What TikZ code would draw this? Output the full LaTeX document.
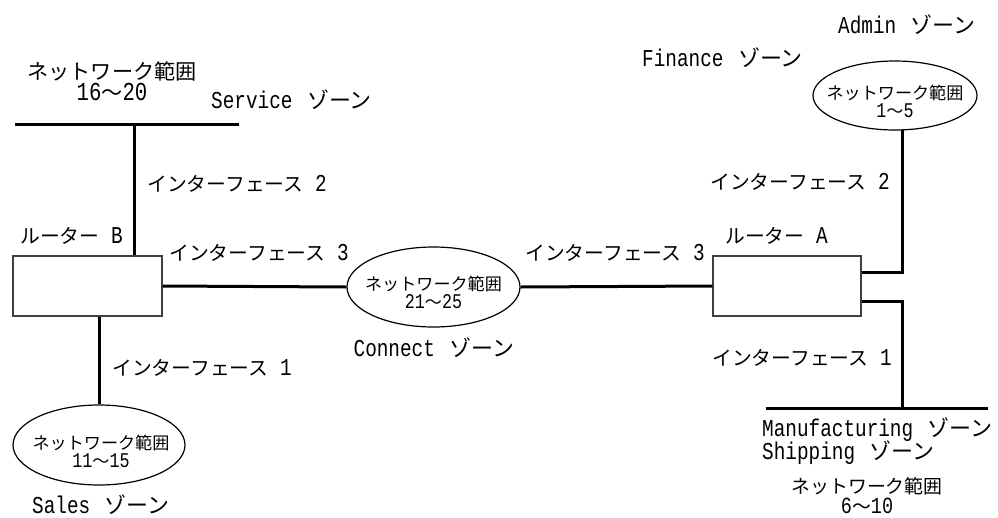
\documentclass[tikz,border=0pt]{standalone}
\usepackage{fontspec}
\setmainfont{Liberation Mono}[FakeStretch=0.8, Scale=1.1]
\newfontfamily\jpfont{Noto Sans CJK JP}[Scale=0.9]
\newcommand\J[1]{{\jpfont #1}}
\newcommand\Zn{\hspace{3pt}{\jpfont\fontsize{24.4}{24}\selectfont ゾーン}}
\usetikzlibrary{shapes.geometric,calc}
\tikzset{
  lbl/.style={inner sep=0pt, font=\fontsize{22}{24}\selectfont, anchor=west},
  wire/.style={line width=3pt},
  router/.style={draw=black!75, line width=1.3pt, minimum width=149pt, minimum height=60pt, inner sep=0pt},
  zone/.style={ellipse, draw, line width=1.2pt, inner sep=0pt},
  zonetext/.style={inner sep=0pt, align=center, font=\fontsize{19}{18}\selectfont},
}
\begin{document}
\begin{tikzpicture}[x=1pt,y=-1pt]
\useasboundingbox (0,0) rectangle (998,517);

% routers
\node[router] (rB) at (87.5,286) {};
\node[router, minimum width=148pt] (rA) at (787,286) {};

% zone ellipses
\node[zone, minimum width=173pt, minimum height=80pt] (eC) at (433.5,287) {};
\node[zonetext] (tC) at (433.5,292) {\J{ネットワーク範囲}\\21\J{〜}25};
\node[zone, minimum width=164pt, minimum height=69pt] (eA) at (895,95.5) {};
\node[zonetext] (tA) at (895,101) {\J{ネットワーク範囲}\\1\J{〜}5};
\node[zone, minimum width=172pt, minimum height=80pt] (eS) at (99,445) {};
\node[zonetext] (tS) at (101,451) {\J{ネットワーク範囲}\\11\J{〜}15};

% bus lines
\coordinate (svL) at (15,124);
\coordinate (svR) at (239,124);
\coordinate (svT) at (134,124);
\coordinate (mfL) at (766,408);
\coordinate (mfR) at (988,408);
\coordinate (mfT) at (902,408);

\draw[wire] (svL) -- (svR);
\draw[wire] (svT) -- (svT |- rB.north);
\draw[wire] (rB.east) -- (eC.west);
\draw[wire] (eC.east) -- (rA.west);
\draw[wire] ($(rA.east)+(0,-14)$) -| (eA.-78);
\draw[wire] ($(rA.east)+(0,15)$) -| (mfT);
\draw[wire] (mfL) -- (mfR);
\draw[wire] (eS.north |- rB.south) -- (eS.north);

% labels
\node[lbl, anchor=center, align=center, font=\fontsize{23.5}{21}\selectfont] (nSv) at (112,81) {\J{ネットワーク範囲}\\16\J{〜}20};
\node[lbl] (lSv) at (211,100) {Service \Zn};
\node[lbl] (if2L) at (147,184) {\J{インターフェース} 2};
\node[lbl] (rBl) at (20,236) {\J{ルーター} B};
\node[lbl] (if3L) at (169,253) {\J{インターフェース} 3};
\node[lbl] (if1L) at (112,368) {\J{インターフェース} 1};
\node[lbl] (lSa) at (32,505) {Sales \Zn};
\node[lbl, anchor=center] (lCo) at (434,348) {Connect \Zn};
\node[lbl] (if3R) at (525,253) {\J{インターフェース} 3};
\node[lbl] (rAl) at (725,236) {\J{ルーター} A};
\node[lbl] (if2R) at (710,182) {\J{インターフェース} 2};
\node[lbl] (lFi) at (642,58) {Finance \Zn};
\node[lbl] (lAd) at (838,25) {Admin \Zn};
\node[lbl] (if1R) at (712,358) {\J{インターフェース} 1};
\node[lbl] (lMf) at (762,430) {Manufacturing \Zn};
\node[lbl] (lSh) at (762,453) {Shipping \Zn};
\node[lbl, anchor=center, align=center, font=\fontsize{21}{20}\selectfont] (nMf) at (867,496) {\J{ネットワーク範囲}\\6\J{〜}10};
\end{tikzpicture}
\end{document}
